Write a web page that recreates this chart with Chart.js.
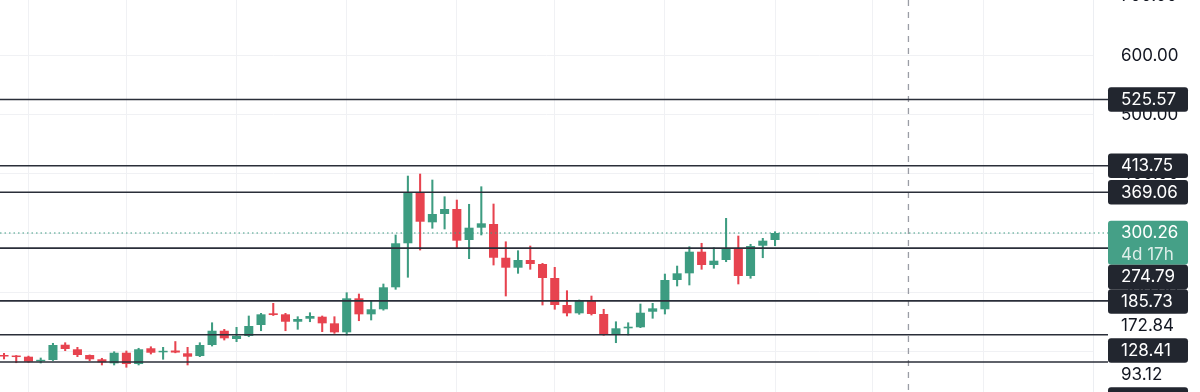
<!DOCTYPE html>
<html><head><meta charset="utf-8">
<script src="https://cdn.jsdelivr.net/npm/chart.js@4.4.1/dist/chart.umd.min.js"></script>
<style>html,body{margin:0;padding:0;background:#fff;overflow:hidden}#wrap{width:1200px;height:392px;position:relative}</style>
</head><body><div id="wrap"><canvas id="c"></canvas></div>
<script>
// ---- data (weekly candles) ----
const opens  = [93.5,92.6,91.5,83.7,85.9,111.7,104.0,94.3,87.1,80.3,98.2,79.1,105.7,98.9,101.9,97.2,92.6,111.2,135.3,121.3,126.4,145.0,164.7,163.0,150.5,155.6,159.0,147.8,132.6,190.0,163.0,171.5,208.6,282.9,368.9,318.3,332.3,340.8,288.4,309.2,315.4,258.5,241.7,254.7,247.9,224.3,178.7,164.7,185.5,163.5,128.1,139.4,141.1,167.4,171.5,220.9,232.2,268.7,246.2,254.7,274.4,227.7,278.8,288.4];
const highs  = [97.2,93.5,92.5,89.3,114.1,115.1,107.3,94.5,88.8,99.9,101.1,105.7,108.3,107.3,117.1,107.3,115.1,148.8,137.7,141.1,160.2,164.7,181.6,164.7,159.0,165.7,160.2,159.0,199.5,197.3,186.0,214.2,296.9,396.4,399.8,389.7,361.5,355.9,348.7,378.4,349.2,285.5,270.4,278.3,249.0,242.3,202.9,187.2,193.9,171.5,150.5,148.8,180.4,181.6,231.0,244.5,277.1,282.9,275.4,325.0,295.2,281.2,291.3,302.4];
const lows   = [87.6,81.3,82.0,80.8,85.0,101.6,91.5,84.7,77.5,77.5,73.6,77.5,96.0,87.1,98.0,77.5,91.5,109.5,119.6,116.8,125.2,135.3,161.0,135.3,137.7,150.5,133.7,130.9,128.1,152.2,153.4,170.0,205.2,225.5,271.5,308.2,307.0,274.4,256.9,296.9,246.2,193.9,232.2,239.0,178.7,171.5,160.2,163.0,161.8,127.5,115.1,128.1,140.5,156.3,163.5,210.8,212.5,239.0,240.7,251.8,214.2,223.8,258.5,278.8];
const closes = [91.8,90.9,83.0,85.9,111.2,104.5,94.3,87.1,82.0,98.2,79.1,104.0,98.2,100.6,98.5,91.5,111.2,135.3,122.5,126.9,143.3,163.0,161.8,150.5,155.1,160.2,147.8,132.6,190.0,163.0,171.5,208.6,282.9,368.9,319.3,332.3,340.8,287.3,309.2,316.6,258.5,241.7,254.7,247.9,224.3,178.7,164.7,185.5,163.5,128.1,139.4,142.1,165.7,173.1,220.9,232.2,268.7,246.2,253.5,274.4,227.7,278.3,287.3,300.26];
const levelValues = [525.57,413.75,369.06,274.79,185.73,128.41,82.50];
const plainValues = [172.84,93.12];
const countdownText = '4d 17h';
const yTicks = [100,200,300,400,500,600,700];
const gridIdx = [2,10,19,28,37,45,54,63,71,80];
const sessionIdx = 73.9;

// ---- view ----
const X_MIN=-0.327, X_MAX=88.98, Y_MIN=31.9, Y_MAX=693.5;
const UP='#3d9c81', DOWN='#e7434f', FONT='Inter';
const idx = opens.map((_,i)=>i);
const colors = idx.map(i=> closes[i]>=opens[i]?UP:DOWN);
const wickData = idx.map(i=>({x:i, y:[lows[i], highs[i]]}));
const bodyData = idx.map(i=>({x:i, y:[opens[i], closes[i]]}));

const overlay = {
  id:'overlay',
  afterDraw(chart){
    const {ctx, chartArea:a, scales:{x,y}} = chart;
    const boxL=1108, boxR=1188, H=24.5, textX=1121;
    ctx.save();
    // axis tick labels
    ctx.font='17px '+FONT; ctx.textBaseline='middle'; ctx.textAlign='left'; ctx.fillStyle='#131722';
    yTicks.forEach(v=>{ ctx.fillText(v.toFixed(2), textX, y.getPixelForValue(v)); });
    // session dashed line
    const sx = x.getPixelForValue(sessionIdx);
    ctx.strokeStyle='#9a9da5'; ctx.lineWidth=1.3; ctx.setLineDash([6,6]);
    ctx.beginPath(); ctx.moveTo(sx,a.top); ctx.lineTo(sx,a.bottom); ctx.stroke();
    // last price dotted line
    const lp = closes[closes.length-1];
    const ly = y.getPixelForValue(lp);
    ctx.strokeStyle=UP; ctx.lineWidth=1.2; ctx.setLineDash([1.5,3]);
    ctx.beginPath(); ctx.moveTo(0,ly); ctx.lineTo(boxL,ly); ctx.stroke();
    // level lines
    ctx.setLineDash([]); ctx.strokeStyle='#2a2e39'; ctx.lineWidth=1.6;
    levelValues.forEach(v=>{ const py=y.getPixelForValue(v);
      ctx.beginPath(); ctx.moveTo(0,py); ctx.lineTo(boxL,py); ctx.stroke(); });
    // labels with stacking
    const items=[];
    levelValues.forEach(v=>items.push({y:y.getPixelForValue(v), text:v.toFixed(2), kind:'dark', h:H}));
    plainValues.forEach(v=>items.push({y:y.getPixelForValue(v), text:v.toFixed(2), kind:'plain', h:H}));
    items.push({y:ly, text:lp.toFixed(2), sub:countdownText, kind:'last', h:44});
    items.sort((p,q)=>p.y-q.y);
    let prev=-Infinity;
    items.forEach(it=>{
      const top=Math.max(it.y-H/2, prev); prev=top+it.h;
      if(it.kind!=='plain'){
        ctx.fillStyle = it.kind==='last' ? '#45a087' : '#22262f';
        ctx.beginPath(); ctx.roundRect(boxL, top, boxR-boxL, it.h, 3); ctx.fill();
        ctx.fillStyle='#ffffff';
      } else ctx.fillStyle='#131722';
      ctx.fillText(it.text, textX, top+12.5);
      if(it.sub){ ctx.fillStyle='rgba(255,255,255,0.82)'; ctx.fillText(it.sub, textX, top+34.5); }
    });
    ctx.restore();
  }
};

new Chart(document.getElementById('c'), {
  type:'bar',
  data:{datasets:[
    {data:wickData, backgroundColor:colors, barThickness:1.4, grouped:false, order:2, borderWidth:0},
    {data:bodyData, backgroundColor:colors, barPercentage:0.74, categoryPercentage:1, grouped:false, minBarLength:1.5, order:1, borderWidth:0, borderSkipped:false}
  ]},
  options:{
    responsive:true, maintainAspectRatio:false, animation:false,
    layout:{padding:0},
    plugins:{legend:{display:false}, tooltip:{enabled:false}},
    scales:{
      x:{type:'linear', min:X_MIN, max:X_MAX, offset:false,
         afterBuildTicks(s){ s.ticks=gridIdx.map(v=>({value:v})); },
         afterFit(s){ s.height=0; },
         ticks:{display:false}, grid:{color:'#f0f1f4', drawTicks:false, offset:false}, border:{display:false}},
      y:{type:'linear', position:'right', min:Y_MIN, max:Y_MAX,
         afterBuildTicks(s){ s.ticks=yTicks.filter(v=>v>=Y_MIN&&v<=Y_MAX).map(v=>({value:v})); },
         afterFit(s){ s.width=107; },
         ticks:{display:false}, grid:{color:'#f0f1f4', drawTicks:false}, border:{display:true, color:'#eceef2'}}
    }
  },
  plugins:[overlay]
});
</script></body></html>
